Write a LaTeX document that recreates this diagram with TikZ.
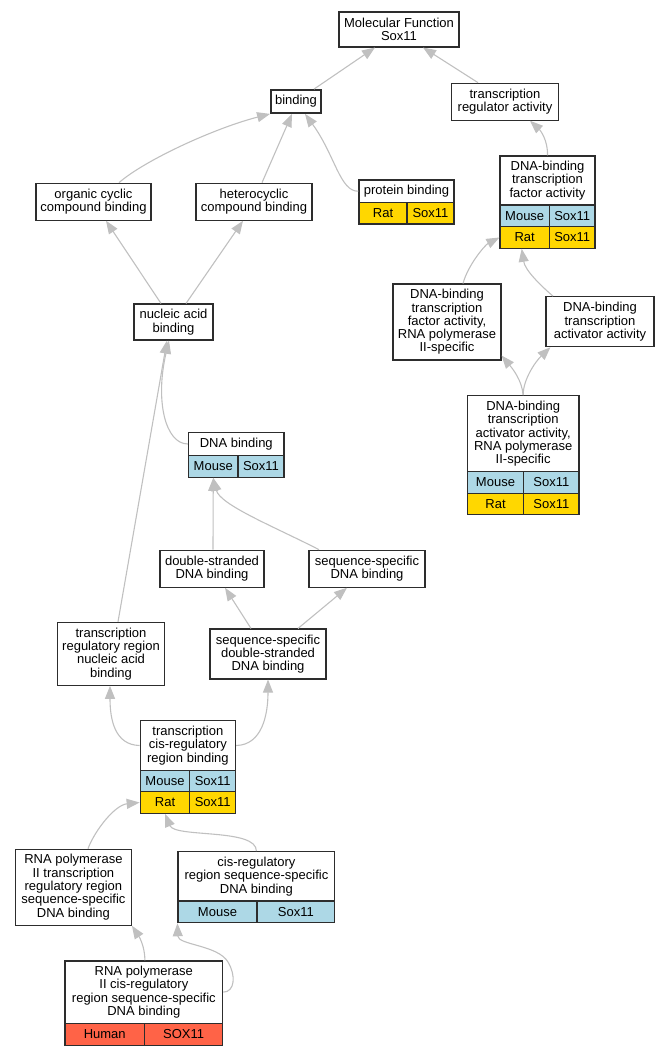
\documentclass[tikz,border=0pt]{standalone}
\usepackage{fontspec}
\setmainfont{Liberation Sans}
\usetikzlibrary{arrows.meta}
\definecolor{edgegray}{RGB}{192,192,192}
\definecolor{mouseblue}{RGB}{173,216,230}
\definecolor{ratgold}{RGB}{255,215,0}
\definecolor{humanred}{RGB}{255,99,71}
\definecolor{boxline}{RGB}{45,45,45}
\begin{document}
\begin{tikzpicture}[x=1pt,y=-1pt,
  box/.style={draw=boxline,line width=1.1pt,fill=white,inner sep=0pt,align=center,font=\fontsize{13}{13.3}\selectfont},
  mouse/.style={box,fill=mouseblue},
  rat/.style={box,fill=ratgold},
  human/.style={box,fill=humanred},
  edge/.style={draw=edgegray,line width=1.1pt,-{Triangle[length=13pt,width=10pt,fill=edgegray]}}
]
\useasboundingbox (0,0) rectangle (667,1056);

% --- nodes ---
\node[box,minimum width=120,minimum height=35] (mf) at (399,29.5) {Molecular Function\\Sox11};
\node[box,line width=1.8pt,minimum width=50,minimum height=23] (binding) at (296,101.5) {binding};
\node[box,minimum width=107,minimum height=37] (tra) at (505,101.7) {transcription\\regulator activity};
\node[box,minimum width=115,minimum height=37] (ocb) at (93.5,201.7) {organic cyclic\\compound binding};
\node[box,minimum width=116,minimum height=37] (hcb) at (254,201.7) {heterocyclic\\compound binding};

\node[box,minimum width=95,minimum height=22.3] (pbt) at (406.5,191.2) {protein binding};
\node[rat,minimum width=48,minimum height=21.7] (pbr1) at (383,213.2) {Rat};
\node[rat,minimum width=47,minimum height=21.7] (pbr2) at (430.5,213.2) {Sox11};

\node[box,minimum width=95,minimum height=49] (dtfat) at (547.5,180.5) {DNA-binding\\transcription\\factor activity};
\node[mouse,minimum width=49.4,minimum height=21.7] (dtfam1) at (524.7,215.85) {Mouse};
\node[mouse,minimum width=45.6,minimum height=21.7] (dtfam2) at (572.2,215.85) {Sox11};
\node[rat,minimum width=49.4,minimum height=21.6] (dtfar1) at (524.7,237.5) {Rat};
\node[rat,minimum width=45.6,minimum height=21.6] (dtfar2) at (572.2,237.5) {Sox11};

\node[box,minimum width=79,minimum height=36] (nab) at (173.5,322) {nucleic acid\\binding};
\node[box,minimum width=108,minimum height=76] (dtfa2) at (447,322) {DNA-binding\\transcription\\factor activity,\\RNA polymerase\\II-specific};
\node[box,minimum width=108,minimum height=50] (dtaa) at (600,321.7) {DNA-binding\\transcription\\activator activity};

\node[box,minimum width=95.5,minimum height=22.6] (dnabt) at (236.25,444) {DNA binding};
\node[mouse,minimum width=49.5,minimum height=22] (dnabm1) at (213.25,466.3) {Mouse};
\node[mouse,minimum width=46,minimum height=22] (dnabm2) at (261,466.3) {Sox11};

\node[box,minimum width=111.7,minimum height=76] (dtaa2t) at (523.15,433.7) {DNA-binding\\transcription\\activator activity,\\RNA polymerase\\II-specific};
\node[mouse,minimum width=56.4,minimum height=21.6] (dtaa2m1) at (495.5,482.5) {Mouse};
\node[mouse,minimum width=55.3,minimum height=21.6] (dtaa2m2) at (551.35,482.5) {Sox11};
\node[rat,minimum width=56.4,minimum height=21.4] (dtaa2r1) at (495.5,504) {Rat};
\node[rat,minimum width=55.3,minimum height=21.4] (dtaa2r2) at (551.35,504) {Sox11};

\node[box,minimum width=104,minimum height=37] (dsdb) at (212,568.7) {double-stranded\\DNA binding};
\node[box,minimum width=116,minimum height=37] (ssdb) at (367,568.7) {sequence-specific\\DNA binding};
\node[box,minimum width=107,minimum height=63] (trrnab) at (111,653.8) {transcription\\regulatory region\\nucleic acid\\binding};
\node[box,minimum width=116,minimum height=50] (ssdsdb) at (268,654) {sequence-specific\\double-stranded\\DNA binding};

\node[box,minimum width=95.4,minimum height=49.6] (tcrbt) at (187.9,745.5) {transcription\\cis-regulatory\\region binding};
\node[mouse,minimum width=49.6,minimum height=21.4] (tcrbm1) at (165,781) {Mouse};
\node[mouse,minimum width=45.8,minimum height=21.4] (tcrbm2) at (212.7,781) {Sox11};
\node[rat,minimum width=49.6,minimum height=21.6] (tcrbr1) at (165,802.5) {Rat};
\node[rat,minimum width=45.8,minimum height=21.6] (tcrbr2) at (212.7,802.5) {Sox11};

\node[box,minimum width=116,minimum height=76] (rp2trr) at (73.4,887.2) {RNA polymerase\\II transcription\\regulatory region\\sequence-specific\\DNA binding};

\node[box,minimum width=156.8,minimum height=49.3] (crrsst) at (256.4,876.35) {cis-regulatory\\region sequence-specific\\DNA binding};
\node[mouse,minimum width=79,minimum height=21.7] (crrssm1) at (217.5,911.85) {Mouse};
\node[mouse,minimum width=77.8,minimum height=21.7] (crrssm2) at (295.9,911.85) {Sox11};

\node[box,minimum width=157.7,minimum height=62.3] (rp2crt) at (143.85,992.15) {RNA polymerase\\II cis-regulatory\\region sequence-specific\\DNA binding};
\node[human,minimum width=79.5,minimum height=22] (rp2crh1) at (104.75,1034.3) {Human};
\node[human,minimum width=78.2,minimum height=22] (rp2crh2) at (183.6,1034.3) {SOX11};

% --- edges ---
\draw[edge] ([xshift=18]binding.north) -- ([xshift=-24]mf.south);
\draw[edge] ([xshift=-27]tra.north) -- ([xshift=24]mf.south);
\draw[edge] ([xshift=25.5]ocb.north) .. controls (145,160) and (215,128) .. (binding.south west);
\draw[edge] ([xshift=8]hcb.north) -- ([xshift=-4]binding.south);
\draw[edge] (pbt.west) .. controls (340,192) and (335,155) .. ([xshift=9]binding.south);
\draw[edge] (dtfat.north) .. controls (548,140) and (540,130) .. ([xshift=25]tra.south);
\draw[edge] ([xshift=-12.5]nab.north) -- ([xshift=12.5]ocb.south);
\draw[edge] ([xshift=12.5]nab.north) -- ([xshift=-11]hcb.south);
\draw[edge] ([xshift=16]dtfa2.north) .. controls (468,265) and (485,245) .. (dtfar1.west);
\draw[edge] ([xshift=-47]dtaa.north) .. controls (540,285) and (525,270) .. ([xshift=-3]dtfar1.south);
\draw[edge] (dtaa2t.north) .. controls (522,380) and (512,368) .. ([yshift=5]dtfa2.south east);
\draw[edge] (dtaa2t.north) .. controls (523,380) and (535,362) .. ([xshift=5]dtaa.south west);
\draw[edge] (dnabt.west) .. controls (165,444) and (155,400) .. ([xshift=-4.5]nab.south);
\draw[edge] ([xshift=7]trrnab.north) -- ([xshift=-6.5]nab.south);
\draw[edge] ([xshift=1]dsdb.north) -- (dnabm1.south);
\draw[edge] ([xshift=-48]ssdb.north) .. controls (275,527) and (220,505) .. (dnabm1.south);
\draw[edge] ([xshift=-17]ssdsdb.north) -- ([xshift=13]dsdb.south);
\draw[edge] ([xshift=30]ssdsdb.north) -- ([xshift=-20]ssdb.south);
\draw[edge] (tcrbt.west) .. controls (115,745) and (110,720) .. ([xshift=-1]trrnab.south);
\draw[edge] (tcrbt.east) .. controls (262,745) and (268,715) .. (ssdsdb.south);
\draw[edge] ([xshift=14.6]rp2trr.north) .. controls (95,830) and (115,805) .. (tcrbr1.west);
\draw[edge] (crrsst.north) .. controls (257,828) and (175,838) .. (tcrbr1.south);
\draw[edge] ([xshift=1]rp2crt.north) .. controls (145,945) and (138,935) .. (rp2trr.south east);
\draw[edge] (rp2crt.east) .. controls (235,992) and (236,975) .. (228,962) .. controls (218,945) and (178,945) .. (crrssm1.south west);
\end{tikzpicture}
\end{document}
